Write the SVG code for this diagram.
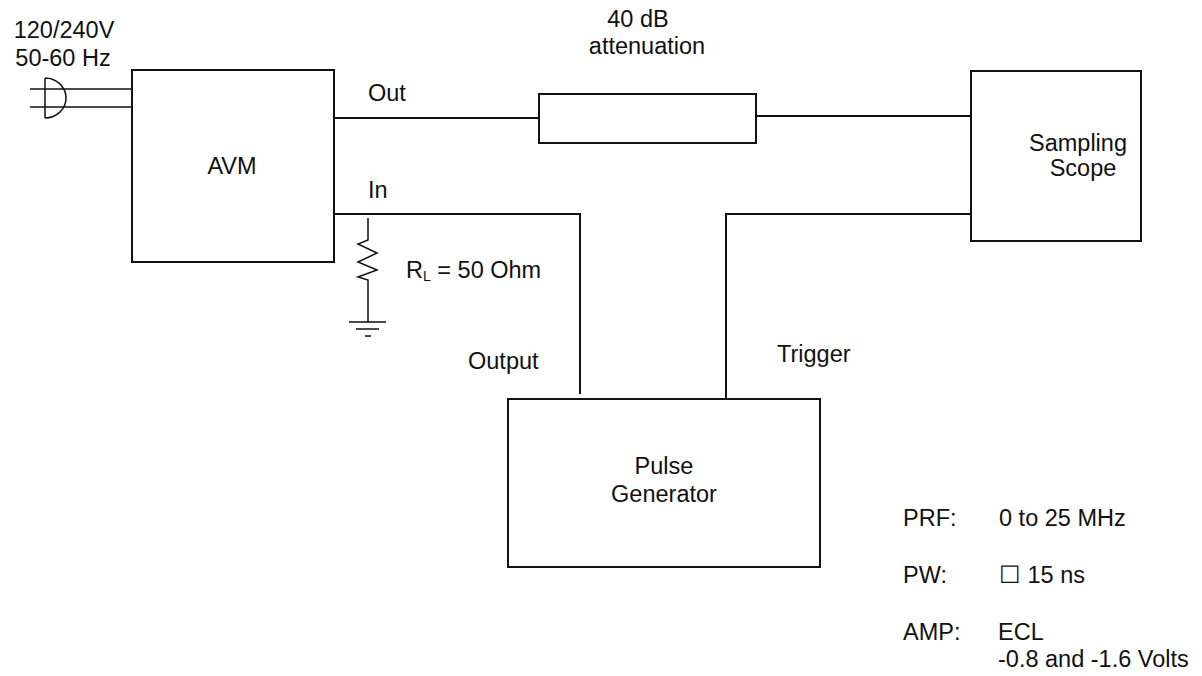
<svg xmlns="http://www.w3.org/2000/svg" width="1202" height="676" viewBox="0 0 1202 676">
<style>
text{font-family:"Liberation Sans",Arial,sans-serif;font-size:23.5px;fill:#111}
.box{fill:#fff;stroke:#111;stroke-width:2}
.w{fill:none;stroke:#111;stroke-width:2}
.t{fill:none;stroke:#111;stroke-width:1.5}
.m{text-anchor:middle}
</style>
<rect width="1202" height="676" fill="#fff"/>
<g id="connectors">
<path class="w" d="M334 118H539M756 116H971"/>
<path class="w" d="M334 214H580V394"/>
<path class="w" d="M726 399V214H971"/>
<path class="t" d="M368 218V240L358 244L377 253L358 262L377 270L358 277L368 280V322"/>
<path class="t" d="M349 322H386M356 329H379M365 336H371"/>
<path class="t" d="M30 89H131M30 107H131M45 78V118M45 78A21 20 0 0 1 45 118"/>
</g>
<g id="mains">
<text class="m" x="64" y="38">120/240V</text>
<text class="m" x="63" y="66">50-60 Hz</text>
</g>
<g id="avm">
<rect class="box" x="132" y="70" width="202" height="192"/>
<text class="m" x="232" y="174">AVM</text>
<text x="368" y="101">Out</text>
<text x="368" y="198">In</text>
</g>
<g id="attenuator">
<rect class="box" x="539" y="94" width="217" height="49"/>
<text class="m" x="638" y="27">40 dB</text>
<text class="m" x="647" y="54">attenuation</text>
</g>
<g id="scope">
<rect class="box" x="971" y="71" width="170" height="170"/>
<text class="m" x="1078" y="151">Sampling</text>
<text class="m" x="1083" y="176">Scope</text>
</g>
<g id="load">
<text x="406" y="278">R<tspan font-size="14" dy="3">L</tspan><tspan dy="-3"> = 50 Ohm</tspan></text>
</g>
<g id="pulse">
<rect class="box" x="508" y="399" width="312" height="168"/>
<text class="m" x="664" y="474">Pulse</text>
<text class="m" x="664" y="502">Generator</text>
<text x="468" y="369">Output</text>
<text x="777" y="362">Trigger</text>
</g>
<g id="specs">
<text x="903" y="526">PRF:</text>
<text x="999" y="526">0 to 25 MHz</text>
<text x="903" y="583">PW:</text>
<text x="999" y="583">☐ 15 ns</text>
<text x="903" y="640">AMP:</text>
<text x="998" y="640">ECL</text>
<text x="998" y="667">-0.8 and -1.6 Volts</text>
</g>
</svg>
